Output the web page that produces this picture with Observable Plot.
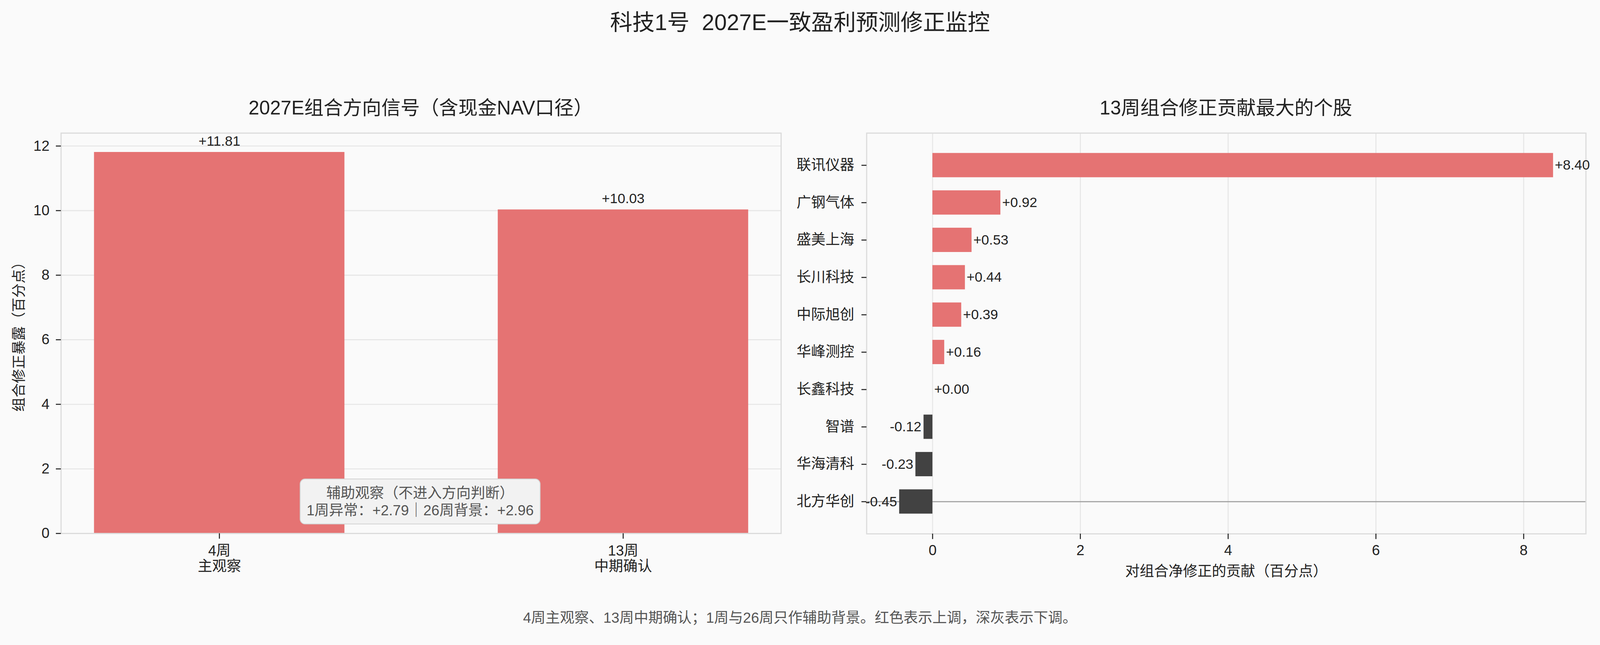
<!DOCTYPE html>
<html>
<head>
<meta charset="utf-8">
<script src="https://cdn.jsdelivr.net/npm/d3@7"></script>
<script src="https://cdn.jsdelivr.net/npm/@observablehq/plot@0.6"></script>
<style>
  html, body { margin: 0; padding: 0; background: #fafafa; overflow: hidden; }
  #root { position: relative; width: 4153px; height: 1651px; background: #fafafa; transform-origin: 0 0;
    font-family: "Liberation Sans", Arial, "Noto Sans CJK SC", sans-serif; color: #222; overflow: hidden; }
  .abs { position: absolute; white-space: pre; }
  .title { left: 0; width: 4153px; text-align: center; font-size: 58px; top: 53px; transform: translateY(-50%); }
  .sub { font-size: 50px; top: 275px; transform: translate(-50%, -50%); }
  .caption { left: 0; width: 4153px; text-align: center; font-size: 37.5px; color: #555; top: 1600px; transform: translateY(-50%); }
  .note { left: 778px; top: 1242px; width: 621px; height: 115px; background: #f2f2f2; border: 2.5px solid #d2d2d2;
    border-radius: 14px; color: #555; font-size: 37.5px; display: flex; flex-direction: column; justify-content: center;
    align-items: center; line-height: 44px; }
  svg { overflow: visible; }
</style>
</head>
<body>
<div id="root">
  <div class="abs title">科技1号  2027E一致盈利预测修正监控</div>
  <div class="abs sub" style="left:1092px">2027E组合方向信号（含现金NAV口径）</div>
  <div class="abs sub" style="left:3182px">13周组合修正贡献最大的个股</div>
  <div class="abs" id="left" style="left:0;top:320px"></div>
  <div class="abs" id="right" style="left:2100px;top:320px"></div>
  <div class="abs note" id="note"></div>
  <div class="abs caption">4周主观察、13周中期确认；1周与26周只作辅助背景。红色表示上调，深灰表示下调。</div>
</div>
<script>
// ---- data ----
const periods = ["4周\n主观察", "13周\n中期确认"];
const periodValues = [11.81, 10.03];
const yTicks = [0, 2, 4, 6, 8, 10, 12];

const stocks = ["联讯仪器", "广钢气体", "盛美上海", "长川科技", "中际旭创", "华峰测控", "长鑫科技", "智谱", "华海清科", "北方华创"];
const contributions = [8.40, 0.92, 0.53, 0.44, 0.39, 0.16, 0.00, -0.12, -0.23, -0.45];
const xTicks = [0, 2, 4, 6, 8];

const auxLabels = ["1周异常", "26周背景"];
const auxValues = [2.79, 2.96];

// ---- fit page to the actual viewport ----
const root = document.getElementById("root");
const fit = Math.min(window.innerWidth / 4153, window.innerHeight / 1651);
if (fit > 0 && Math.abs(fit - 1) > 0.001) root.style.transform = `scale(${fit})`;

// ---- styling ----
const RED = "#e57373";
const DARK = "#424242";
const FONT = '"Liberation Sans", Arial, "Noto Sans CJK SC", sans-serif';
const fmt = v => (v >= 0 ? "+" : "") + v.toFixed(2);

const leftData = periods.map((p, i) => ({period: p, value: periodValues[i]}));
const rightData = stocks.map((s, i) => ({name: s, value: contributions[i]}));

const baseStyle = {fontFamily: FONT, fontSize: "37.5px", color: "#222", background: "transparent", overflow: "visible"};

const left = Plot.plot({
  width: 2100, height: 1220,
  marginTop: 25, marginBottom: 156, marginLeft: 158, marginRight: 73,
  style: baseStyle,
  x: {domain: periods, paddingInner: 0.38, paddingOuter: 0.081, label: null},
  y: {domain: [0, 12.4], label: null},
  marks: [
    Plot.gridY(yTicks, {stroke: "#e6e6e6", strokeOpacity: 1, strokeWidth: 2.6}),
    Plot.barY(leftData, {x: "period", y: "value", fill: RED}),
    Plot.ruleY([0], {stroke: "#a8a8a8", strokeWidth: 2.6}),
    Plot.frame({stroke: "#dcdcdc", strokeWidth: 3}),
    Plot.axisY({ticks: yTicks, tickSize: 13, tickPadding: 17, label: null, stroke: "#222", strokeWidth: 2.6, fontSize: 37.5}),
    Plot.axisX({tickSize: 14, tickPadding: 15, label: null, stroke: "#222", strokeWidth: 2.6, fontSize: 37.5, lineHeight: 1.07}),
    Plot.text(leftData, {x: "period", y: "value", text: d => fmt(d.value), dy: -17, lineAnchor: "bottom", fontSize: 36, fill: "#222"}),
    Plot.text(["组合修正暴露（百分点）"], {frameAnchor: "left", dx: -108, rotate: -90, textAnchor: "middle", lineAnchor: "middle", text: d => d, fontSize: 37, fill: "#222"})
  ]
});
document.getElementById("left").appendChild(left);

const right = Plot.plot({
  width: 2053, height: 1220,
  marginTop: 25, marginBottom: 155, marginLeft: 149, marginRight: 37,
  style: baseStyle,
  x: {domain: [-0.8925, 8.8425], label: null},
  y: {domain: stocks, paddingInner: 0.35, paddingOuter: 0.4825, label: null},
  marks: [
    Plot.gridX(xTicks, {stroke: "#e6e6e6", strokeOpacity: 1, strokeWidth: 2.6}),
    Plot.ruleY([stocks[stocks.length - 1]], {stroke: "#9e9e9e", strokeWidth: 3}),
    Plot.barX(rightData.filter(d => d.value >= 0), {x: "value", y: "name", fill: RED}),
    Plot.barX(rightData.filter(d => d.value < 0), {x: "value", y: "name", fill: DARK}),
    Plot.frame({stroke: "#dcdcdc", strokeWidth: 3}),
    Plot.axisX({ticks: xTicks, tickSize: 14, tickPadding: 15, label: null, stroke: "#222", strokeWidth: 2.6, fontSize: 37.5}),
    Plot.axisY({tickSize: 13, tickPadding: 19, label: null, stroke: "#222", strokeWidth: 2.6, fontSize: 37.5}),
    Plot.text(rightData.filter(d => d.value >= 0), {x: "value", y: "name", text: d => fmt(d.value), dx: 4, textAnchor: "start", fontSize: 36, fill: "#222"}),
    Plot.text(rightData.filter(d => d.value < 0), {x: "value", y: "name", text: d => fmt(d.value), dx: -6, textAnchor: "end", fontSize: 36, fill: "#222"}),
    Plot.text(["对组合净修正的贡献（百分点）"], {frameAnchor: "bottom", dy: 98, lineAnchor: "middle", text: d => d, fontSize: 37.5, fill: "#222"})
  ]
});
document.getElementById("right").appendChild(right);

const note = document.getElementById("note");
const l1 = document.createElement("div");
l1.textContent = "辅助观察（不进入方向判断）";
const l2 = document.createElement("div");
l2.textContent = auxLabels[0] + "：" + fmt(auxValues[0]) + "｜" + auxLabels[1] + "：" + fmt(auxValues[1]);
note.appendChild(l1);
note.appendChild(l2);
</script>
</body>
</html>
